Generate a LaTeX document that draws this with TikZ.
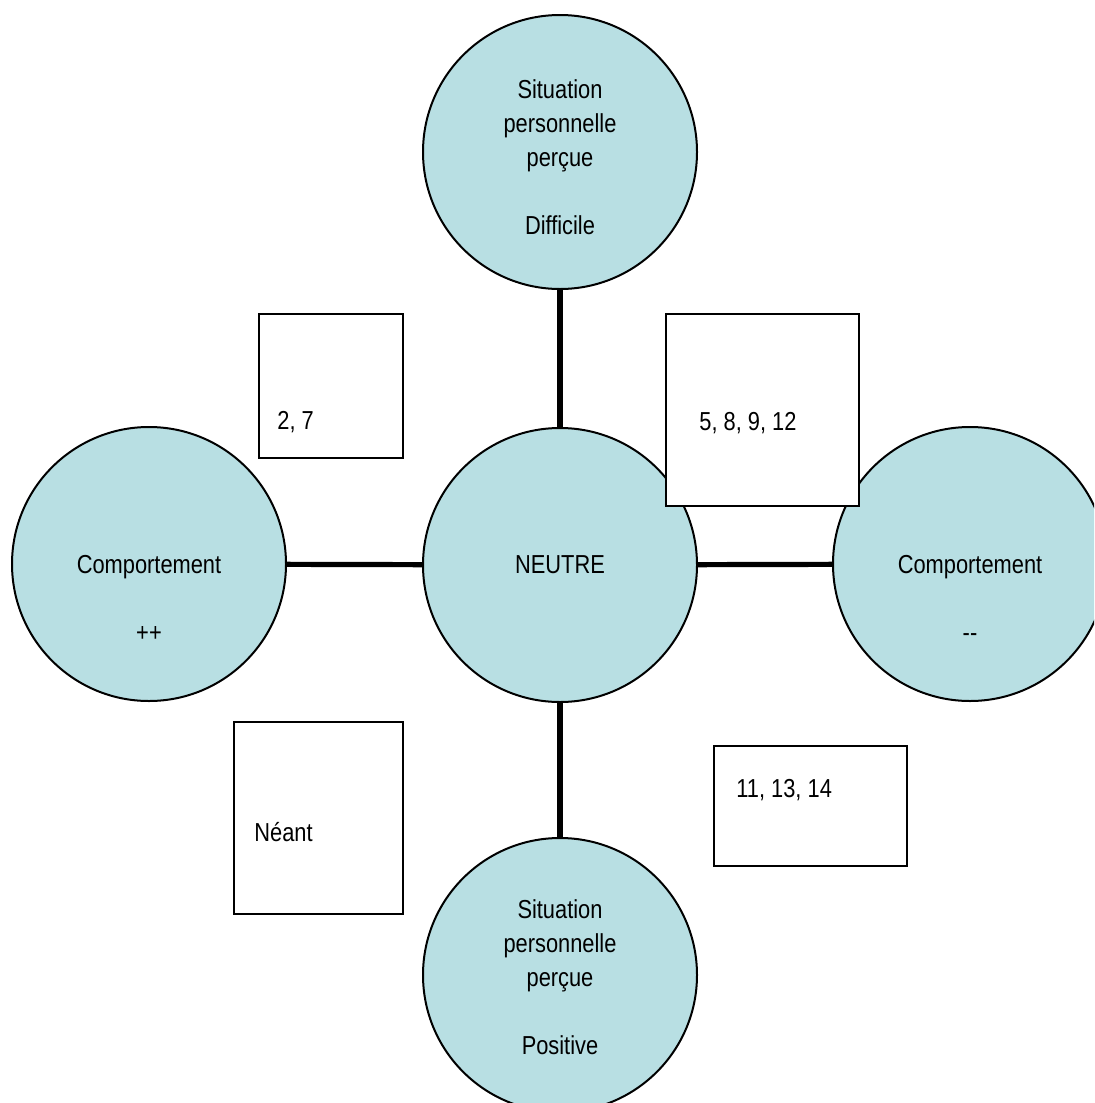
\documentclass[tikz,border=0pt]{standalone}
\usepackage{fontspec}
\setmainfont[FakeStretch=0.84]{Liberation Sans}
\usepackage{xcolor}
\usepackage{tikz}
\usetikzlibrary{positioning, calc}
\definecolor{paleteal}{HTML}{B8DFE3}

\begin{document}
\begin{tikzpicture}[x=0.5pt, y=-0.5pt,
    font=\fontsize{13}{17}\selectfont,
    pole/.style={circle, fill=paleteal, draw=black, line width=1pt,
                 minimum size=137pt, inner sep=0pt, align=center},
    numbox/.style={rectangle, fill=white, draw=black, line width=1pt,
                   anchor=north west, inner sep=0pt},
    boxtext/.style={anchor=west, inner sep=0pt},
    link/.style={line width=2.6pt}]
    \useasboundingbox (0,0) rectangle (1094,1103);
    \clip (0,0) rectangle (1094,1103);

    % the five poles
    \node[pole] (mid) at (560,565) {NEUTRE};
    \node[pole] (top) at (560,152) {};
    \node[pole] (bottom) at (560,975) {};
    \node[pole] (left) at (149,564) {};
    \node[pole] (right) at (970,564) {};
    \node[align=center] (toptxt) at (560,157) {Situation\\personnelle\\perçue\\[17pt]Difficile};
    \node[align=center] (bottomtxt) at (560,977) {Situation\\personnelle\\perçue\\[17pt]Positive};
    \node[align=center] (lefttxt) at (149,598) {Comportement\\[17pt]++};
    \node[align=center] (righttxt) at (970,598) {Comportement\\[17pt]{-}{-}};

    \draw[link] (top) -- (mid);
    \draw[link] (mid) -- (bottom);
    \draw[link] (left) -- (mid);
    \draw[link] (mid) -- (right);

    % the four groups
    \node[numbox, minimum width=72pt, minimum height=72pt] (boxA) at (258,313) {};
    \node[numbox, minimum width=96.5pt, minimum height=96pt] (boxB) at (665,313) {};
    \node[numbox, minimum width=84.5pt, minimum height=96pt] (boxC) at (233,721) {};
    \node[numbox, minimum width=96.5pt, minimum height=60pt] (boxD) at (713,745) {};
    \node[boxtext] (txtA) at (277,422) {2, 7};
    \node[boxtext] (txtB) at (699,423) {5, 8, 9, 12};
    \node[boxtext] (txtC) at (254,832) {Néant};
    \node[boxtext] (txtD) at (736,790) {11, 13, 14};
\end{tikzpicture}
\end{document}
